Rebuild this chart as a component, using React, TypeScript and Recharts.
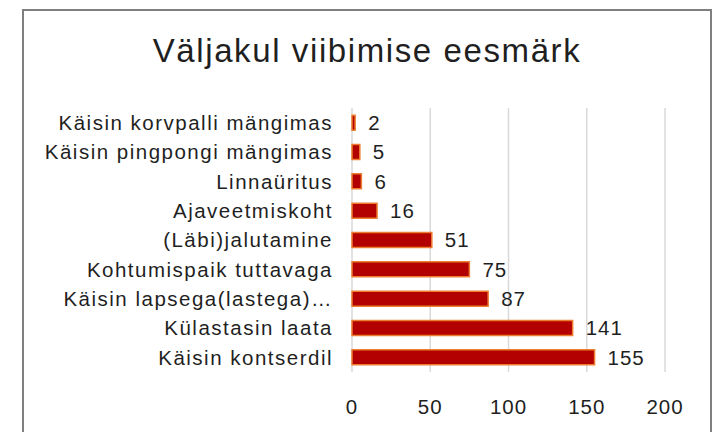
import { Bar, BarChart, CartesianGrid, LabelList, XAxis, YAxis } from "recharts"

const categories = [
  "Käisin korvpalli mängimas",
  "Käisin pingpongi mängimas",
  "Linnaüritus",
  "Ajaveetmiskoht",
  "(Läbi)jalutamine",
  "Kohtumispaik tuttavaga",
  "Käisin lapsega(lastega)…",
  "Külastasin laata",
  "Käisin kontserdil",
]
const counts = [2, 5, 6, 16, 51, 75, 87, 141, 155]
const xTicks = [0, 50, 100, 150, 200]

const data = categories.map((name, i) => ({ name, value: counts[i] }))

const font = "'Liberation Sans', Arial, sans-serif"
const textColor = "#1f1f1f"

export default function App() {
  return (
    <div style={{ position: "absolute", left: 0, top: 0, width: 726, height: 432, overflow: "hidden", background: "#fff" }}>
      <div
        style={{
          position: "absolute",
          left: 22,
          top: 9,
          width: 690,
          height: 440,
          border: "2px solid #7f7f7f",
          boxSizing: "border-box",
        }}
      />
      <div
        style={{
          position: "absolute",
          left: 0,
          width: 734,
          top: 32,
          textAlign: "center",
          fontFamily: font,
          fontSize: 33,
          letterSpacing: 1.6,
          color: textColor,
        }}
      >
        Väljakul viibimise eesmärk
      </div>
      <BarChart
        width={726}
        height={432}
        data={data}
        layout="vertical"
        margin={{ top: 108, right: 61, left: 0, bottom: 0 }}
        barCategoryGap="24.5%"
        style={{ position: "absolute", left: 0, top: 0 }}
      >
        <CartesianGrid horizontal={false} stroke="#d9d9d9" strokeWidth={1.5} />
        <XAxis
          type="number"
          domain={[0, 200]}
          ticks={xTicks}
          axisLine={false}
          tickLine={false}
          tickSize={0}
          tickMargin={27}
          height={60}
          tick={{ fill: textColor, fontSize: 20.5, fontFamily: font, letterSpacing: 1 }}
        />
        <YAxis
          type="category"
          dataKey="name"
          width={352}
          axisLine={false}
          tickLine={false}
          tickSize={0}
          tickMargin={19}
          interval={0}
          tick={{ fill: textColor, fontSize: 20.5, fontFamily: font, letterSpacing: 1.5 }}
        />
        <Bar dataKey="value" fill="#b30000" stroke="#ed7d31" strokeWidth={1.5} isAnimationActive={false}>
          <LabelList
            dataKey="value"
            position="right"
            offset={13}
            fill={textColor}
            fontSize={20.5}
            fontFamily={font}
            letterSpacing={1}
          />
        </Bar>
      </BarChart>
    </div>
  )
}
